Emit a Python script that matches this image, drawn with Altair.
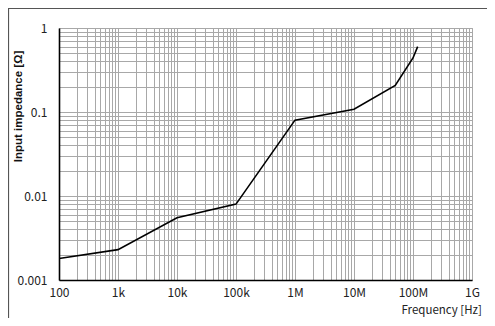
import altair as alt
import pandas as pd

# Data
freq_hz = [100, 1000, 10000, 100000, 1e6, 1e7, 5e7, 1e8, 1.2e8]
impedance_ohm = [0.0018, 0.0023, 0.0055, 0.008, 0.08, 0.108, 0.207, 0.44, 0.6]

x_decades = [100, 1000, 10000, 100000, 1000000, 10000000, 100000000, 1000000000]
x_labels = ["100", "1k", "10k", "100k", "1M", "10M", "100M", "1G"]
y_decades = [0.001, 0.01, 0.1, 1]
y_labels = ["0.001", "0.01", "0.1", "1"]

def with_minors(decades):
    vals = []
    for i, d in enumerate(decades):
        vals.append(d)
        if i < len(decades) - 1:
            for k in range(2, 10):
                vals.append(float(f"{k * d:.12g}"))
    return vals

x_ticks = with_minors(x_decades)
y_ticks = with_minors(y_decades)

def label_expr(decades, labels):
    expr = "''"
    for d, l in reversed(list(zip(decades, labels))):
        expr = f"abs(datum.value - {d!r}) < {d * 1e-6!r} ? '{l}' : ({expr})"
    return expr

df = pd.DataFrame({"f": freq_hz, "z": impedance_ohm})

W, H = 413, 252
PAD_L, PAD_T, PAD_R, PAD_B = 51, 20, 15, 38

line = alt.Chart(df).mark_line(color="black", strokeWidth=1.6, clip=True).encode(
    x=alt.X(
        "f:Q",
        scale=alt.Scale(type="log", domain=[100, 1e9], nice=False),
        axis=alt.Axis(
            values=x_ticks,
            labelExpr=label_expr(x_decades, x_labels),
            labelOverlap=False,
            labelFlush=False,
            ticks=False,
            labelPadding=7,
            labelFont="Noto Sans CJK JP",
            labelFontSize=12,
            labelColor="#222",
            gridColor="#a8a8a8",
            gridWidth=1,
            domainColor="black",
            domainWidth=1.6,
            title="Frequency [Hz]",
            titleFont="Noto Sans CJK JP",
            titleFontSize=11.5,
            titleFontWeight="normal",
            titleColor="#222",
            titleAlign="left",
            titleAnchor="start",
            titleBaseline="middle",
            titleX=342,
            titleY=30,
        ),
    ),
    y=alt.Y(
        "z:Q",
        scale=alt.Scale(type="log", domain=[0.001, 1], nice=False),
        axis=alt.Axis(
            values=y_ticks,
            labelExpr=label_expr(y_decades, y_labels),
            labelOverlap=False,
            labelFlush=False,
            ticks=False,
            labelPadding=12,
            labelFont="Noto Sans CJK JP",
            labelFontSize=12,
            labelColor="#222",
            labelBaseline="middle",
            gridColor="#a8a8a8",
            gridWidth=1,
            domainColor="black",
            domainWidth=1.6,
            title="Input impedance [Ω]",
            titleFont="Liberation Sans",
            titleFontSize=11.5,
            titleFontWeight="bold",
            titleColor="#111",
            titleAngle=270,
            titleAlign="center",
            titleBaseline="middle",
            titleX=-41,
            titleY=78,
        ),
    ),
)

frame_df = pd.DataFrame({"a": [0]})
frame = alt.Chart(frame_df).mark_rect(
    fill="transparent", stroke="#555", strokeWidth=1.2, clip=False
).encode(
    x=alt.value(-PAD_L + 0.5),
    x2=alt.value(W + 200),
    y=alt.value(-PAD_T + 0.5),
    y2=alt.value(H + 200),
)

chart = alt.layer(frame, line).properties(
    width=W,
    height=H,
    padding={"left": PAD_L, "top": PAD_T, "right": PAD_R, "bottom": PAD_B},
    autosize=alt.AutoSizeParams(type="none"),
    background="white",
).configure_view(stroke="#a8a8a8", strokeWidth=1)

chart.save("out.html", embed_options={"renderer": "svg", "actions": False})
